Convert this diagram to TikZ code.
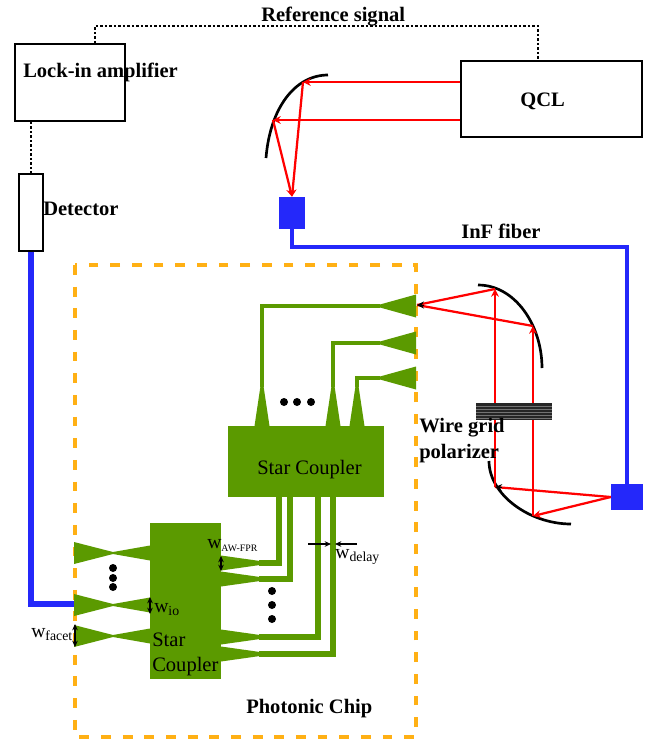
\documentclass[tikz,border=0pt]{standalone}
\usepackage{fontspec}
\setmainfont{Liberation Serif}
\usetikzlibrary{arrows.meta}
\definecolor{chipgreen}{RGB}{91,154,0}
\definecolor{chiporange}{RGB}{255,176,20}
\definecolor{fiberblue}{RGB}{36,40,250}
\def\px{0.025cm}
\newcommand{\wlabel}[1]{w\textsubscript{#1}}
\tikzset{
    boxnode/.style={draw, line width=1.3pt, inner sep=0pt, fill=white},
    title/.style={font=\fontsize{14.6}{16}\selectfont\bfseries, inner sep=0pt, anchor=base west},
    plain/.style={font=\fontsize{14.6}{16}\selectfont, inner sep=0pt, anchor=base west},
    wtext/.style={font=\fontsize{14}{15}\selectfont, inner sep=0pt, anchor=base west},
    fiber/.style={color=fiberblue, line width=3.5pt},
    ray/.style={color=red, line width=1.6pt},
    raytip/.style={ray, -{Stealth[length=5.5pt,width=5.5pt]}},
    blacktip/.style={black, line width=0.6pt, -{Stealth[length=5pt,width=5pt]}},
    mirror/.style={black, line width=1.9pt},
    wg/.style={color=chipgreen, line width=2.5pt},
    wgdelay/.style={color=chipgreen, line width=3.6pt},
    taper/.style={fill=chipgreen, draw=none},
    widthmark/.style={black, line width=0.8pt, {Stealth[length=4.5pt,width=4pt]}-{Stealth[length=4.5pt,width=4pt]}},
    widthone/.style={black, line width=0.8pt, -{Stealth[length=4.5pt,width=4pt]}},
    sigline/.style={black, line width=1.2pt, dash pattern=on 1.6pt off 1.6pt},
}
\begin{document}
\begin{tikzpicture}[x=0.025cm,y=-0.025cm]
    \useasboundingbox (0,0) rectangle (663,739);
    %chip outline
    \draw [color=chiporange, line width=2.5pt, dash pattern=on 7pt off 8.4pt] (75,265) rectangle (416,737);

    %instruments
    \node [boxnode, minimum width=110*\px, minimum height=77*\px] (lockin) at (70,82.5) {};
    \node [boxnode, minimum width=24*\px, minimum height=77*\px] (detector) at (31,212.5) {};
    \node [boxnode, minimum width=181*\px, minimum height=76*\px] (qcl) at (551.5,99) {};
    \node [title] (qcllabel) at (520,106) {QCL};
    \node [title] (lockinlabel) at (23,77) {Lock-in amplifier};
    \node [title] (detectorlabel) at (43,215) {Detector};
    \node [title] (reflabel) at (261,21) {Reference signal};
    \node [title] (inflabel) at (461,238) {InF fiber};
    \node [title] (chiplabel) at (246,713) {Photonic Chip};

    %signal lines
    \coordinate (refa) at (95,26);
    \coordinate (refb) at (538,26);
    \draw [sigline] (lockin.north -| refa) -- (refa) -- (refb) -- (qcl.north -| refb);
    \draw [sigline] (lockin.south -| detector) -- (detector.north);

    %fiber
    \node [fill=fiberblue, inner sep=0pt, minimum width=26*\px, minimum height=32*\px] (inlet) at (292,213) {};
    \node [fill=fiberblue, inner sep=0pt, minimum width=32*\px, minimum height=26*\px] (outlet) at (627,497) {};
    \coordinate (fibercorner) at (627,247);
    \coordinate (chipin) at (74,604);
    \draw [fiber] (inlet.south) |- (fibercorner) -- (outlet.north);
    \draw [fiber, line width=4pt] (detector.south) -- (detector.south |- chipin) -- (chipin);

    %top mirror
    \draw [mirror] (266,158) .. controls (270,108) and (295,75) .. (328,75);
    \coordinate (mirrora) at (303,82);
    \coordinate (mirrorb) at (273,120);
    \draw [raytip] (qcl.west |- mirrora) -- (mirrora);
    \draw [raytip] (qcl.west |- mirrorb) -- (mirrorb);
    \draw [raytip] (mirrora) -- (inlet.north);
    \draw [raytip] (mirrorb) -- (inlet.north);

    %right mirrors
    \draw [mirror] (478,285) .. controls (515,285) and (542,325) .. (542,368);
    \draw [mirror] (489,461) .. controls (489,495) and (530,524) .. (571,524);
    \coordinate (srca) at (495,487);
    \coordinate (srcb) at (533,516);
    \coordinate (mirrorc) at (495,289);
    \coordinate (mirrord) at (533,326);
    \coordinate (facet) at (417,305);
    \coordinate (facettail) at (424,305);
    \coordinate (srcatail) at (502,487.6);
    \draw [ray] (outlet.west) -- (srca);
    \draw [raytip] (outlet.west) -- (srcb);
    \draw [raytip] (srca) -- (mirrorc);
    \draw [raytip] (srcb) -- (mirrord);
    \draw [ray] (mirrorc) -- (facet);
    \draw [ray] (mirrord) -- (facet);
    \draw [blacktip] (facettail) -- (facet);
    \draw [blacktip] (srcatail) -- (srca);

    %polarizer
    \node [fill=black!85, inner sep=0pt, minimum width=76*\px, minimum height=17*\px] (polarizer) at (514,411.5) {};
    \foreach \y in {406,409,412,415,418}
        \draw [color=black!55, line width=0.3pt] (476,\y) -- (552,\y);
    \node [title] (wirelabel) at (419,432) {Wire grid};
    \node [title] (pollabel) at (419,458) {polarizer};

    %upper star coupler
    \node [fill=chipgreen, inner sep=0pt, minimum width=156*\px, minimum height=71*\px] (upperstar) at (306,461.5) {};
    \node [plain] (upperlabel) at (257,474) {Star Coupler};
    \foreach \x in {262,333,357}
        \fill [taper] (\x-7.5,426) -- (\x-1.5,386) -- (\x+1.5,386) -- (\x+7.5,426) -- cycle;
    \foreach \y/\x in {306/262,343/333,378/357} {
        \draw [wg] (\x,387) -- (\x,\y) -- (380,\y);
        \fill [taper] (380,\y-1.5) -- (416,\y-11.5) -- (416,\y+11.5) -- (380,\y+1.5) -- cycle;
    }
    \foreach \x in {284,297,311}
        \fill (\x,402) circle [radius=4];

    %lower star coupler
    \node [fill=chipgreen, inner sep=0pt, minimum width=71*\px, minimum height=156*\px] (lowerstar) at (185.5,601) {};
    \node [plain] (lowerlabela) at (152,646) {Star};
    \node [plain] (lowerlabelb) at (152,671) {Coupler};
    \foreach \y in {553,605,636}
        \fill [taper] (74,\y-11) -- (113,\y-1) -- (150,\y-7.5) -- (150,\y+7.5) -- (113,\y+1) -- (74,\y+11) -- cycle;
    \foreach \y/\x in {563/279,579/290,637/318,654/333} {
        \fill [taper] (221,\y-7.5) -- (260,\y-2) -- (260,\y+2) -- (221,\y+7.5) -- cycle;
        \draw [wgdelay] (259,\y) -- (\x,\y) -- (\x,497);
    }
    \foreach \y in {568,578,587}
        \fill (113,\y) circle [radius=4];
    \foreach \y in {591,605,619}
        \fill (272,\y) circle [radius=4];

    %widths
    \draw [widthmark] (221,556) -- (221,571);
    \draw [widthmark] (150,597) -- (150,614);
    \draw [widthmark] (75,624) -- (75,647);
    \draw [widthone] (308,544) -- (331,544);
    \draw [widthone] (357,544) -- (335,544);
    \node [wtext] (wawfpr) at (207,548) {w\textsubscript{\fontsize{7}{8}\selectfont AW-FPR}};
    \node [wtext] (wio) at (154,612) {\wlabel{io}};
    \node [wtext] (wfacet) at (31,637) {\wlabel{facet}};
    \node [wtext] (wdelay) at (335,558) {\wlabel{delay}};
\end{tikzpicture}
\end{document}
